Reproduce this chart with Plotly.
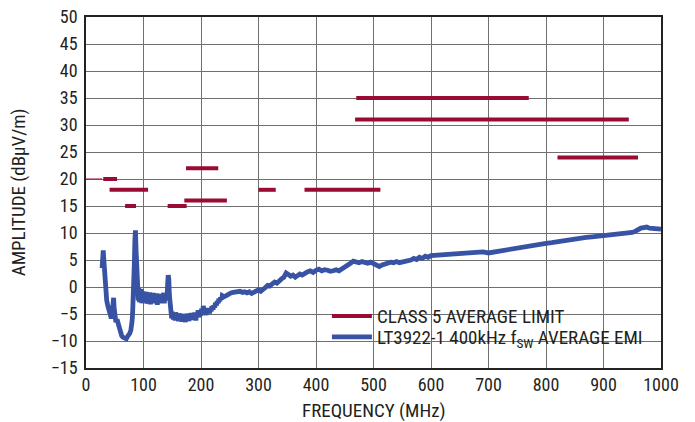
import plotly.graph_objects as go

# ---- CLASS 5 average limit segments (MHz start, MHz stop, dBuV/m) ----
lim_start = [30, 41, 68, 142, 171, 174, 300, 380, 468, 470, 820]
lim_stop = [54, 108, 87, 175, 245, 230, 330, 512, 944, 770, 960]
lim_level = [20, 18, 15, 15, 16, 22, 18, 18, 31, 35, 24]
thin_start, thin_stop, thin_level = 0, 28, 20

# ---- LT3922-1 average EMI (three frequency segments) ----
freq_low = [28, 29, 30, 31, 32, 33, 34, 35, 36, 38,
            40, 42, 44, 46, 47, 48, 49, 50, 52, 54,
            56, 58, 60, 62, 64, 66, 68, 70, 72, 74,
            76, 78, 79, 80, 81, 82, 83, 84, 85, 86,
            87, 88, 89]
amp_low = [3.5, 5.5, 6.8, 5.0, 3.0, 1.0, -1.0, -2.0, -2.5, -3.5,
           -4.5, -5.5, -5.8, -4.5, -3.0, -2.0, -4.0, -5.5, -6.5, -6.0,
           -7.0, -7.8, -8.3, -9.0, -9.3, -9.5, -9.4, -9.6, -9.2, -9.0,
           -8.6, -8.0, -7.5, -6.5, -5.0, -3.0, 0.0, 4.0, 8.5, 10.5,
           7.0, 3.0, 0.5]

freq_mid = [90, 91, 92, 93, 94, 95, 96, 97, 98, 99,
            100, 101, 102, 104, 105, 106, 108, 109, 111, 112,
            114, 115, 117, 118, 120, 121, 123, 124, 126, 127,
            129, 130, 132, 133, 135, 136, 138, 139, 141, 142,
            143, 144, 145, 146, 147, 148, 149, 150, 152, 153,
            155, 156, 158, 159, 161, 162, 164, 165, 167, 168,
            170, 171, 173, 174, 176, 177, 179, 180, 182, 183,
            185, 186, 188, 189, 191, 192, 194, 195, 197, 198,
            200, 201, 203, 204, 206, 207, 209, 210, 212, 213,
            215, 216, 218, 219, 221, 222, 224, 225, 227, 228,
            230, 231, 233, 234, 236, 237, 240]
amp_mid = [-0.5, -2.5, -0.2, -2.8, -0.6, -2.2, -0.4, -3.0, -1.0, -2.6,
           -0.8, -2.9, -1.2, -2.4, -0.9, -3.1, -1.3, -2.7, -1.0, -3.2,
           -1.4, -2.6, -1.1, -3.0, -1.5, -2.5, -1.2, -3.3, -1.6, -2.8,
           -1.3, -3.0, -1.6, -2.6, -1.1, -3.0, -1.5, -2.4, -1.6, 0.5,
           2.2, 1.5, -1.5, -3.5, -5.0, -4.2, -5.8, -4.6, -6.0, -4.8,
           -6.2, -4.7, -6.0, -5.0, -6.3, -4.9, -6.1, -5.2, -6.4, -5.0,
           -6.2, -5.1, -6.5, -5.3, -6.0, -4.9, -6.3, -5.2, -6.0, -4.8,
           -6.1, -5.0, -5.9, -4.7, -6.2, -5.0, -5.5, -4.3, -5.6, -4.5,
           -5.3, -4.0, -4.6, -3.5, -4.8, -4.0, -5.2, -4.3, -5.0, -3.9,
           -4.9, -4.0, -4.5, -3.5, -4.2, -3.4, -3.8, -2.9, -3.4, -2.6,
           -3.0, -2.2, -2.6, -1.9, -2.3, -1.6, -1.8]

freq_high = [244, 248, 252, 256, 260, 264, 268, 272, 276, 280,
             284, 288, 292, 296, 300, 304, 308, 312, 316, 320,
             324, 328, 332, 336, 340, 344, 348, 352, 356, 360,
             364, 368, 372, 376, 380, 385, 390, 395, 400, 405,
             410, 415, 420, 425, 430, 435, 440, 445, 450, 455,
             460, 465, 470, 475, 480, 485, 490, 495, 500, 505,
             510, 515, 520, 525, 530, 535, 540, 545, 550, 555,
             560, 565, 570, 575, 580, 585, 590, 595, 600, 610,
             620, 630, 640, 650, 660, 670, 680, 690, 700, 710,
             720, 730, 740, 750, 760, 770, 780, 790, 800, 810,
             820, 830, 840, 850, 860, 870, 880, 890, 900, 910,
             920, 930, 940, 950, 955, 960, 965, 970, 975, 980,
             985, 990, 995, 1000]
amp_high = [-1.6, -1.3, -1.1, -1.0, -0.9, -1.0, -0.8, -1.0, -0.9, -1.1,
            -0.9, -1.2, -1.0, -0.7, -0.5, -0.8, -0.3, -0.1, 0.3, 0.2,
            0.6, 0.9, 0.7, 1.2, 1.5, 1.8, 2.6, 2.3, 2.0, 2.2,
            1.8, 2.1, 2.4, 2.2, 2.6, 2.8, 3.0, 2.7, 3.1, 3.3,
            3.0, 3.2, 3.1, 2.9, 3.0, 3.2, 3.0, 3.3, 3.6, 3.9,
            4.4, 4.8, 4.6, 4.5, 4.7, 4.5, 4.4, 4.6, 4.3, 4.0,
            3.8, 4.1, 4.3, 4.4, 4.6, 4.5, 4.7, 4.5, 4.6, 4.9,
            4.8, 5.0, 5.3, 5.1, 5.5, 5.3, 5.7, 5.5, 5.8, 5.9,
            6.0, 5.9, 6.2, 6.3, 6.2, 6.5, 6.4, 6.5, 6.3, 6.5,
            6.6, 6.8, 6.9, 7.1, 7.4, 7.6, 7.9, 8.0, 8.1, 8.2,
            8.4, 8.5, 8.7, 8.9, 9.0, 9.2, 9.3, 9.4, 9.6, 9.7,
            9.8, 9.9, 10.0, 10.1, 10.3, 10.7, 10.9, 11.0, 11.1, 10.9,
            10.8, 10.7, 10.8, 10.7]

assert len(freq_low) == len(amp_low)
assert len(freq_mid) == len(amp_mid)
assert len(freq_high) == len(amp_high)
freq = freq_low + freq_mid + freq_high
amp = amp_low + amp_mid + amp_high

x_ticks = list(range(0, 1001, 100))
y_ticks = list(range(-15, 51, 5))

RED = "#990b33"
BLUE = "#3953a4"
TXT = "#231f20"
FONT = "Roboto Condensed, Liberation Sans Narrow, sans-serif"
FS = 19
TFS = 18

lx, ly = [], []
for s, e, v in zip(lim_start, lim_stop, lim_level):
    lx += [s, e, None]
    ly += [v, v, None]

fig = go.Figure()
fig.add_trace(go.Scatter(x=[thin_start, thin_stop], y=[thin_level, thin_level],
                         mode="lines", line=dict(color=RED, width=1),
                         showlegend=False, hoverinfo="skip"))
fig.add_trace(go.Scatter(x=lx, y=ly, mode="lines", name="CLASS 5 AVERAGE LIMIT",
                         line=dict(color=RED, width=4), legend="legend"))
fig.add_trace(go.Scatter(x=freq, y=amp, mode="lines",
                         name="LT3922-1 400kHz f<sub>SW</sub> AVERAGE EMI",
                         line=dict(color=BLUE, width=4.8), legend="legend2"))

axis_common = dict(showgrid=True, gridcolor="#707070", gridwidth=1.3,
                   showline=True, linecolor="#222222", linewidth=1.5, mirror=True,
                   ticks="", zeroline=False, automargin=False,
                   ticklabeloverflow="allow",
                   tickfont=dict(family=FONT, size=TFS, color=TXT))

legend_common = dict(xanchor="left", yanchor="middle", bgcolor="rgba(0,0,0,0)",
                     borderwidth=0, itemwidth=40,
                     font=dict(family=FONT, size=FS, color=TXT))

fig.update_layout(
    width=695, height=422,
    margin=dict(l=86, r=34, t=17, b=54),
    paper_bgcolor="white", plot_bgcolor="white",
    font=dict(family=FONT, size=FS, color=TXT),
    xaxis=dict(range=[0, 1000], tickvals=x_ticks, ticklabelstandoff=0, **axis_common),
    yaxis=dict(range=[-15, 50], tickvals=y_ticks, ticklabelstandoff=3, **axis_common),
    legend=dict(x=0.419, y=0.148, **legend_common),
    legend2=dict(x=0.419, y=0.088, **legend_common),
    showlegend=True,
    shapes=[dict(type="rect", xref="paper", yref="paper", x0=0.403, x1=0.995,
                 y0=0.034, y1=0.194, fillcolor="white", line=dict(width=0),
                 layer="between")],
    annotations=[
        dict(text="FREQUENCY (MHz)", xref="paper", yref="paper", x=0.5, y=-0.12,
             xanchor="center", yanchor="middle", showarrow=False,
             font=dict(family=FONT, size=FS, color=TXT)),
        dict(text="AMPLITUDE (dBµV/m)", xref="paper", yref="paper", x=-0.117, y=0.5,
             xanchor="center", yanchor="middle", textangle=-90, showarrow=False,
             font=dict(family=FONT, size=FS, color=TXT)),
    ],
)

# remove the browser's default 8 px body margin so the figure fills the window
fig.write_html("out.html", config={"displayModeBar": False},
               post_script="document.body.style.margin='0';")
